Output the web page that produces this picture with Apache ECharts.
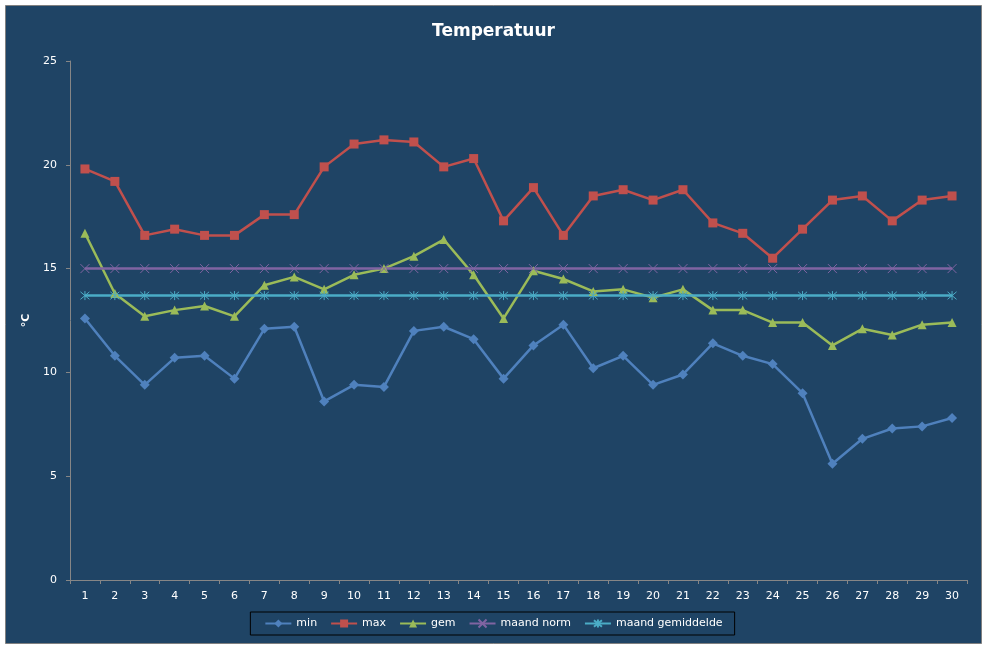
<!DOCTYPE html>
<html>
<head>
<meta charset="utf-8">
<script src="https://cdn.jsdelivr.net/npm/echarts@6/dist/echarts.min.js"></script>
<style>
  html, body { margin: 0; padding: 0; background: #fff; }
  #chart { width: 987px; height: 648px; }
</style>
</head>
<body>
<div id="chart"></div>
<script>
// days of the month
const days = ["1","2","3","4","5","6","7","8","9","10","11","12","13","14","15",
  "16","17","18","19","20","21","22","23","24","25","26","27","28","29","30"];

// daily values (°C)
const minTemp = [12.6, 10.8, 9.4, 10.7, 10.8, 9.7, 12.1, 12.2, 8.6, 9.4, 9.3, 12.0, 12.2, 11.6, 9.7,
  11.3, 12.3, 10.2, 10.8, 9.4, 9.9, 11.4, 10.8, 10.4, 9.0, 5.6, 6.8, 7.3, 7.4, 7.8];
const maxTemp = [19.8, 19.2, 16.6, 16.9, 16.6, 16.6, 17.6, 17.6, 19.9, 21.0, 21.2, 21.1, 19.9, 20.3, 17.3,
  18.9, 16.6, 18.5, 18.8, 18.3, 18.8, 17.2, 16.7, 15.5, 16.9, 18.3, 18.5, 17.3, 18.3, 18.5];
const gemTemp = [16.7, 13.8, 12.7, 13.0, 13.2, 12.7, 14.2, 14.6, 14.0, 14.7, 15.0, 15.6, 16.4, 14.7, 12.6,
  14.9, 14.5, 13.9, 14.0, 13.6, 14.0, 13.0, 13.0, 12.4, 12.4, 11.3, 12.1, 11.8, 12.3, 12.4];
const maandNorm = days.map(() => 15.0);
const maandGem = days.map(() => 13.7);

const seriesNames = ["min", "max", "gem", "maand norm", "maand gemiddelde"];

const FONT = "DejaVu Sans";
const crossPath = "path://M0,0L10,10M10,0L0,10";
const starPath = "path://M0,0L10,10M10,0L0,10M5,-1L5,11";

function lineSeries(name, data, color, symbol, size, stroke) {
  return {
    name: name,
    type: "line",
    data: data,
    symbol: symbol,
    symbolSize: size,
    showAllSymbol: true,
    lineStyle: { color: color, width: 2.5 },
    itemStyle: stroke
      ? { color: "transparent", borderColor: color, borderWidth: 1 }
      : { color: color },
    emphasis: { disabled: true },
  };
}

const myChart = echarts.init(document.getElementById("chart"));
const option = {
  backgroundColor: "#ffffff",
  animation: false,
  graphic: [
    {
      type: "rect",
      z: -10,
      silent: true,
      shape: { x: 5.5, y: 5.5, width: 976, height: 638 },
      style: { fill: "#1f4465", stroke: "#808080", lineWidth: 1 },
    },
  ],
  title: {
    text: "Temperatuur",
    left: "center",
    top: 18,
    textStyle: { color: "#ffffff", fontFamily: FONT, fontSize: 17, fontWeight: "bold" },
  },
  legend: {
    data: seriesNames,
    left: "center",
    top: 612,
    orient: "horizontal",
    borderColor: "#000000",
    borderWidth: 1,
    padding: [6, 12, 6, 14],
    itemGap: 13,
    itemWidth: 26,
    itemHeight: 10,
    textStyle: { color: "#ffffff", fontFamily: FONT, fontSize: 11 },
  },
  grid: { left: 70, top: 61, right: 20, bottom: 68, containLabel: false },
  xAxis: {
    type: "category",
    data: days,
    boundaryGap: true,
    axisLine: { lineStyle: { color: "#868686", width: 1 } },
    axisTick: { show: true, length: 4, lineStyle: { color: "#868686" } },
    axisLabel: { color: "#ffffff", fontFamily: FONT, fontSize: 11, margin: 11, interval: 0 },
    splitLine: { show: false },
  },
  yAxis: {
    type: "value",
    min: 0,
    max: 25,
    interval: 5,
    name: "°C",
    nameLocation: "middle",
    nameGap: 37,
    nameRotate: 90,
    nameTextStyle: { color: "#ffffff", fontFamily: FONT, fontSize: 11, fontWeight: "bold" },
    axisLine: { show: true, lineStyle: { color: "#868686", width: 1 } },
    axisTick: { show: true, length: 4, lineStyle: { color: "#868686" } },
    axisLabel: { color: "#ffffff", fontFamily: FONT, fontSize: 11, margin: 13 },
    splitLine: { show: false },
  },
  series: [
    lineSeries("min", minTemp, "#4f81bd", "diamond", 10, false),
    lineSeries("max", maxTemp, "#c0504d", "rect", 9, false),
    lineSeries("gem", gemTemp, "#9bbb59", "triangle", 9, false),
    lineSeries("maand norm", maandNorm, "#8064a2", crossPath, 9, true),
    lineSeries("maand gemiddelde", maandGem, "#4bacc6", starPath, 9, true),
  ],
};

myChart.setOption(option);
</script>
</body>
</html>
